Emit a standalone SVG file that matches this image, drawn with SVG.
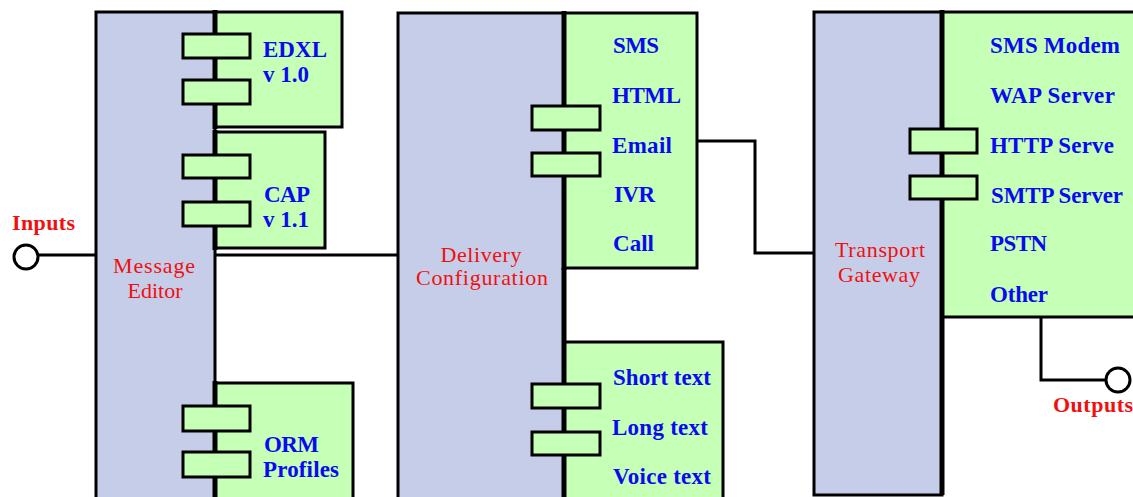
<svg xmlns="http://www.w3.org/2000/svg" width="1133" height="497" viewBox="0 0 1133 497">
<style>
.blue{fill:#C6CDE8;stroke:#000;stroke-width:3}
.green{fill:#C6FFB6;stroke:#000;stroke-width:3}
.stub{fill:#C6FFB6;stroke:#000;stroke-width:3}
.sep{stroke:#000;stroke-width:5}
.lbl{font-family:"Liberation Serif",serif;font-weight:bold;font-size:23px;fill:#0A0AF0}
.name{font-family:"Liberation Serif",serif;font-size:22px;fill:#F01010;text-anchor:middle}
.io{font-family:"Liberation Serif",serif;font-weight:bold;font-size:22px;fill:#F01010}
.wire{fill:none;stroke:#000;stroke-width:3}
.port{fill:#fff;stroke:#000;stroke-width:3}
</style>
<rect width="1133" height="497" fill="#fff"/>
<g id="connectors">
<line class="wire" x1="38" y1="255" x2="96" y2="255"/>
<line class="wire" x1="215" y1="255" x2="398" y2="255"/>
<polyline class="wire" points="697,141 755,141 755,253 814,253"/>
<polyline class="wire" points="1041,317 1041,380 1105,380"/>
</g>
<g id="inputs">
<circle class="port" cx="26" cy="257" r="12"/>
<text class="io" x="12" y="230" textLength="63">Inputs</text>
</g>
<g id="outputs">
<circle class="port" cx="1118" cy="380" r="12"/>
<text class="io" x="1053" y="412" textLength="80">Outputs</text>
</g>
<g id="message-editor">
<rect class="blue" x="96" y="12" width="119" height="500"/>
<text class="name" x="154" y="273" textLength="82">Message</text>
<text class="name" x="155" y="298" textLength="55">Editor</text>
</g>
<g id="edxl">
<rect class="green" x="215" y="12" width="127" height="115"/>
<line class="sep" x1="215" y1="10" x2="215" y2="129"/>
<rect class="stub" x="183" y="34" width="67" height="24"/>
<rect class="stub" x="183" y="80" width="67" height="24"/>
<text class="lbl" x="263" y="57" textLength="64">EDXL</text>
<text class="lbl" x="263" y="82" textLength="46">v 1.0</text>
</g>
<g id="cap">
<rect class="green" x="215" y="132" width="110" height="116"/>
<line class="sep" x1="215" y1="130" x2="215" y2="250"/>
<rect class="stub" x="183" y="155" width="67" height="23"/>
<rect class="stub" x="183" y="202" width="67" height="24"/>
<text class="lbl" x="264" y="202" textLength="46">CAP</text>
<text class="lbl" x="263" y="227" textLength="46">v 1.1</text>
</g>
<g id="orm">
<rect class="green" x="215" y="383" width="138" height="130"/>
<line class="sep" x1="215" y1="381" x2="215" y2="500"/>
<rect class="stub" x="183" y="406" width="67" height="25"/>
<rect class="stub" x="183" y="452" width="67" height="25"/>
<text class="lbl" x="264" y="452" textLength="55">ORM</text>
<text class="lbl" x="263" y="477" textLength="76">Profiles</text>
</g>
<g id="delivery-configuration">
<rect class="blue" x="398" y="13" width="166" height="500"/>
<text class="name" x="481" y="262" textLength="81">Delivery</text>
<text class="name" x="482" y="285" textLength="132">Configuration</text>
</g>
<g id="channels">
<rect class="green" x="564" y="13" width="133" height="255"/>
<line class="sep" x1="564" y1="11" x2="564" y2="270"/>
<rect class="stub" x="532" y="106" width="68" height="24"/>
<rect class="stub" x="532" y="153" width="68" height="23"/>
<text class="lbl" x="613" y="53" textLength="46">SMS</text>
<text class="lbl" x="612" y="103" textLength="69">HTML</text>
<text class="lbl" x="612" y="153" textLength="60">Email</text>
<text class="lbl" x="614" y="202" textLength="41">IVR</text>
<text class="lbl" x="613" y="251" textLength="41">Call</text>
</g>
<g id="formats">
<rect class="green" x="564" y="342" width="159" height="170"/>
<line class="sep" x1="564" y1="268" x2="564" y2="500"/>
<rect class="stub" x="532" y="384" width="68" height="24"/>
<rect class="stub" x="532" y="432" width="68" height="23"/>
<text class="lbl" x="613" y="385" textLength="98">Short text</text>
<text class="lbl" x="612" y="435" textLength="96">Long text</text>
<text class="lbl" x="613" y="484" textLength="98">Voice text</text>
</g>
<g id="transport-gateway">
<rect class="blue" x="814" y="12" width="128" height="483"/>
<text class="name" x="880" y="257" textLength="90">Transport</text>
<text class="name" x="879" y="282" textLength="82">Gateway</text>
</g>
<g id="servers">
<rect class="green" x="942" y="12" width="200" height="305"/>
<line class="sep" x1="942" y1="10" x2="942" y2="495"/>
<rect class="stub" x="910" y="129" width="67" height="24"/>
<rect class="stub" x="910" y="176" width="67" height="23"/>
<text class="lbl" x="990" y="53" textLength="130">SMS Modem</text>
<text class="lbl" x="990" y="103" textLength="125">WAP Server</text>
<text class="lbl" x="990" y="153" textLength="124">HTTP Serve</text>
<text class="lbl" x="991" y="203" textLength="132">SMTP Server</text>
<text class="lbl" x="990" y="251" textLength="57">PSTN</text>
<text class="lbl" x="990" y="302" textLength="58">Other</text>
</g>
</svg>
